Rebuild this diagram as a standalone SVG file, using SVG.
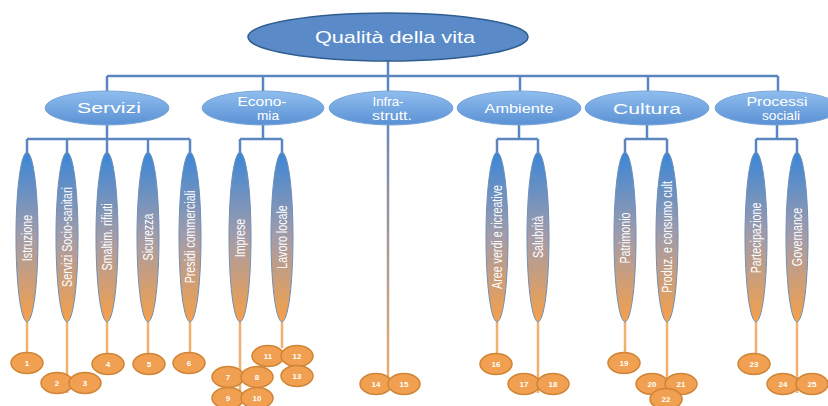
<svg xmlns="http://www.w3.org/2000/svg" width="828" height="406" viewBox="0 0 828 406">
<defs>
<linearGradient id="gSpindle" x1="0" y1="0" x2="0" y2="1">
<stop offset="0" stop-color="#3a86d8"/>
<stop offset="0.5" stop-color="#a39ca8"/>
<stop offset="1" stop-color="#f6a048"/>
</linearGradient>
<linearGradient id="gL2" x1="0" y1="0" x2="0" y2="1">
<stop offset="0" stop-color="#8fbdee"/>
<stop offset="1" stop-color="#5a91d4"/>
</linearGradient>
<linearGradient id="gInfra" gradientUnits="userSpaceOnUse" x1="0" y1="125" x2="0" y2="390">
<stop offset="0" stop-color="#6a86b8"/>
<stop offset="1" stop-color="#f0b070"/>
</linearGradient>
<path id="spindle" d="M0 -85C7 -83 11 -42 11 0C11 42 7 83 0 85C-7 83 -11 42 -11 0C-11 -42 -7 -83 0 -85Z"/>
</defs>
<style>
.blue{stroke:#5b86c0;stroke-width:2.5;fill:none}
.or{stroke:#f0b070;stroke-width:2.5;fill:none}
.sp{fill:url(#gSpindle);stroke:#6f8fb5;stroke-width:1}
.l2{fill:url(#gL2);stroke:#7aa6d8;stroke-width:1}
.t{font-family:"Liberation Sans",Arial,sans-serif;fill:#ffffff;text-anchor:middle}
.st{font-size:10.7px}
.c{fill:#f0a050;stroke:#cf8436;stroke-width:1.5}
.n{font-family:"Liberation Sans",Arial,sans-serif;fill:#ffffff;font-size:8px;font-weight:bold;text-anchor:middle}
</style>
<g id="connectors">
<path class="blue" d="M388 60V76M107 76H778M107 76V92M263 76V92M388 76V92M520 76V92M648 76V92M778 76V92"/>
<path class="blue" d="M107 124V139M27 139H190M27 139V153M67 139V153M107 139V153M148 139V153M190 139V153"/>
<path class="blue" d="M263 124V139M240 139H282M240 139V153M282 139V153"/>
<path class="blue" d="M519 124V139M497 139H538M497 139V153M538 139V153"/>
<path class="blue" d="M647 124V139M625 139H667M625 139V153M667 139V153"/>
<path class="blue" d="M777 124V139M756 139H797M756 139V153M797 139V153"/>
<line x1="388" y1="124" x2="388" y2="390" stroke="url(#gInfra)" stroke-width="2.5"/>
<path class="or" d="M27 322V353M67 322V393M107 322V354M148 322V354M190 322V353M240 322V405M282 322V348M497 322V354M538 322V393M625 322V353M667 322V390M756 322V354M797 322V393"/>
</g>
<g id="root">
<ellipse cx="388" cy="37" rx="140" ry="24" fill="#5a8bc8" stroke="#2f5d8f" stroke-width="1.5"/>
<text class="t" x="395" y="43" font-size="17" textLength="160" lengthAdjust="spacingAndGlyphs">Qualità della vita</text>
</g>
<g id="servizi">
<ellipse class="l2" cx="107" cy="108" rx="62" ry="17"/>
<text class="t" x="109" y="113" font-size="14" textLength="64" lengthAdjust="spacingAndGlyphs">Servizi</text>
</g>
<g id="economia">
<ellipse class="l2" cx="263" cy="108" rx="61" ry="17"/>
<text class="t" x="262" y="106" font-size="12" textLength="49" lengthAdjust="spacingAndGlyphs">Econo-</text>
<text class="t" x="268" y="120" font-size="12" textLength="22" lengthAdjust="spacingAndGlyphs">mia</text>
</g>
<g id="infrastrutt">
<ellipse class="l2" cx="391" cy="108" rx="62" ry="17"/>
<text class="t" x="388" y="106" font-size="12" textLength="31" lengthAdjust="spacingAndGlyphs">Infra-</text>
<text class="t" x="392" y="120" font-size="12" textLength="40" lengthAdjust="spacingAndGlyphs">strutt.</text>
</g>
<g id="ambiente">
<ellipse class="l2" cx="519" cy="108" rx="62" ry="17"/>
<text class="t" x="519" y="113" font-size="12" textLength="69" lengthAdjust="spacingAndGlyphs">Ambiente</text>
</g>
<g id="cultura">
<ellipse class="l2" cx="647" cy="108" rx="62" ry="17"/>
<text class="t" x="647" y="114" font-size="15" textLength="68" lengthAdjust="spacingAndGlyphs">Cultura</text>
</g>
<g id="processi">
<ellipse class="l2" cx="777" cy="108" rx="62" ry="17"/>
<text class="t" x="777" y="106" font-size="12" textLength="61" lengthAdjust="spacingAndGlyphs">Processi</text>
<text class="t" x="781" y="120" font-size="12" textLength="38" lengthAdjust="spacingAndGlyphs">sociali</text>
</g>
<g id="istruzione">
<use href="#spindle" class="sp" x="27" y="237"/>
<text class="t st" transform="translate(27,238) scale(1.35,1) rotate(-90)" y="3.8">Istruzione</text>
</g>
<g id="socio-sanitari">
<use href="#spindle" class="sp" x="67" y="237"/>
<text class="t st" transform="translate(67,237) scale(1.35,1) rotate(-90)" y="3.8">Servizi Socio-sanitari</text>
</g>
<g id="smaltim">
<use href="#spindle" class="sp" x="107" y="237"/>
<text class="t st" transform="translate(107,237) scale(1.35,1) rotate(-90)" y="3.8">Smaltim. rifiuti</text>
</g>
<g id="sicurezza">
<use href="#spindle" class="sp" x="148" y="237"/>
<text class="t st" transform="translate(148,237) scale(1.35,1) rotate(-90)" y="3.8">Sicurezza</text>
</g>
<g id="presidi">
<use href="#spindle" class="sp" x="190" y="237"/>
<text class="t st" transform="translate(190,237) scale(1.35,1) rotate(-90)" y="3.8">Presidi commerciali</text>
</g>
<g id="imprese">
<use href="#spindle" class="sp" x="240" y="237"/>
<text class="t st" transform="translate(240,238) scale(1.35,1) rotate(-90)" y="3.8">Imprese</text>
</g>
<g id="lavoro">
<use href="#spindle" class="sp" x="282" y="237"/>
<text class="t st" transform="translate(282,237) scale(1.35,1) rotate(-90)" y="3.8">Lavoro locale</text>
</g>
<g id="aree-verdi">
<use href="#spindle" class="sp" x="497" y="237"/>
<text class="t st" transform="translate(497,237) scale(1.35,1) rotate(-90)" y="3.8">Aree verdi e ricreative</text>
</g>
<g id="salubrita">
<use href="#spindle" class="sp" x="538" y="237"/>
<text class="t st" transform="translate(538,237) scale(1.35,1) rotate(-90)" y="3.8">Salubrità</text>
</g>
<g id="patrimonio">
<use href="#spindle" class="sp" x="625" y="237"/>
<text class="t st" transform="translate(625,238) scale(1.35,1) rotate(-90)" y="3.8">Patrimonio</text>
</g>
<g id="produz">
<use href="#spindle" class="sp" x="667" y="237"/>
<text class="t st" transform="translate(667,237) scale(1.35,1) rotate(-90)" y="3.8">Produz. e consumo cult</text>
</g>
<g id="partecipazione">
<use href="#spindle" class="sp" x="756" y="237"/>
<text class="t st" transform="translate(756,238) scale(1.35,1) rotate(-90)" y="3.8">Partecipazione</text>
</g>
<g id="governance">
<use href="#spindle" class="sp" x="797" y="237"/>
<text class="t st" transform="translate(797,237) scale(1.35,1) rotate(-90)" y="3.8">Governance</text>
</g>
<g id="n1"><ellipse class="c" cx="27" cy="363" rx="16" ry="10.5"/><text class="n" x="27" y="366">1</text></g>
<g id="n2"><ellipse class="c" cx="57" cy="383" rx="16" ry="10.5"/><text class="n" x="57" y="386">2</text></g>
<g id="n3"><ellipse class="c" cx="85" cy="383" rx="16" ry="10.5"/><text class="n" x="85" y="386">3</text></g>
<g id="n4"><ellipse class="c" cx="108" cy="364" rx="16" ry="10.5"/><text class="n" x="108" y="367">4</text></g>
<g id="n5"><ellipse class="c" cx="149" cy="364" rx="16" ry="10.5"/><text class="n" x="149" y="367">5</text></g>
<g id="n6"><ellipse class="c" cx="189" cy="363" rx="16" ry="10.5"/><text class="n" x="189" y="366">6</text></g>
<g id="n7"><ellipse class="c" cx="228" cy="377" rx="16" ry="10.5"/><text class="n" x="228" y="380">7</text></g>
<g id="n8"><ellipse class="c" cx="257" cy="377" rx="16" ry="10.5"/><text class="n" x="257" y="380">8</text></g>
<g id="n9"><ellipse class="c" cx="228" cy="398" rx="16" ry="10.5"/><text class="n" x="228" y="401">9</text></g>
<g id="n10"><ellipse class="c" cx="257" cy="398" rx="16" ry="10.5"/><text class="n" x="257" y="401">10</text></g>
<g id="n11"><ellipse class="c" cx="268" cy="356" rx="16" ry="10.5"/><text class="n" x="268" y="359">11</text></g>
<g id="n12"><ellipse class="c" cx="297" cy="356" rx="16" ry="10.5"/><text class="n" x="297" y="359">12</text></g>
<g id="n13"><ellipse class="c" cx="297" cy="376" rx="16" ry="10.5"/><text class="n" x="297" y="379">13</text></g>
<g id="n14"><ellipse class="c" cx="376" cy="384" rx="16" ry="10.5"/><text class="n" x="376" y="387">14</text></g>
<g id="n15"><ellipse class="c" cx="404" cy="384" rx="16" ry="10.5"/><text class="n" x="404" y="387">15</text></g>
<g id="n16"><ellipse class="c" cx="496" cy="364" rx="16" ry="10.5"/><text class="n" x="496" y="367">16</text></g>
<g id="n17"><ellipse class="c" cx="524" cy="384" rx="16" ry="10.5"/><text class="n" x="524" y="387">17</text></g>
<g id="n18"><ellipse class="c" cx="553" cy="384" rx="16" ry="10.5"/><text class="n" x="553" y="387">18</text></g>
<g id="n19"><ellipse class="c" cx="624" cy="363" rx="16" ry="10.5"/><text class="n" x="624" y="366">19</text></g>
<g id="n20"><ellipse class="c" cx="652" cy="384" rx="16" ry="10.5"/><text class="n" x="652" y="387">20</text></g>
<g id="n21"><ellipse class="c" cx="681" cy="384" rx="16" ry="10.5"/><text class="n" x="681" y="387">21</text></g>
<g id="n22"><ellipse class="c" cx="666" cy="399" rx="16" ry="10.5"/><text class="n" x="666" y="402">22</text></g>
<g id="n23"><ellipse class="c" cx="754" cy="364" rx="16" ry="10.5"/><text class="n" x="754" y="367">23</text></g>
<g id="n24"><ellipse class="c" cx="783" cy="384" rx="16" ry="10.5"/><text class="n" x="783" y="387">24</text></g>
<g id="n25"><ellipse class="c" cx="812" cy="384" rx="16" ry="10.5"/><text class="n" x="812" y="387">25</text></g>
</svg>
